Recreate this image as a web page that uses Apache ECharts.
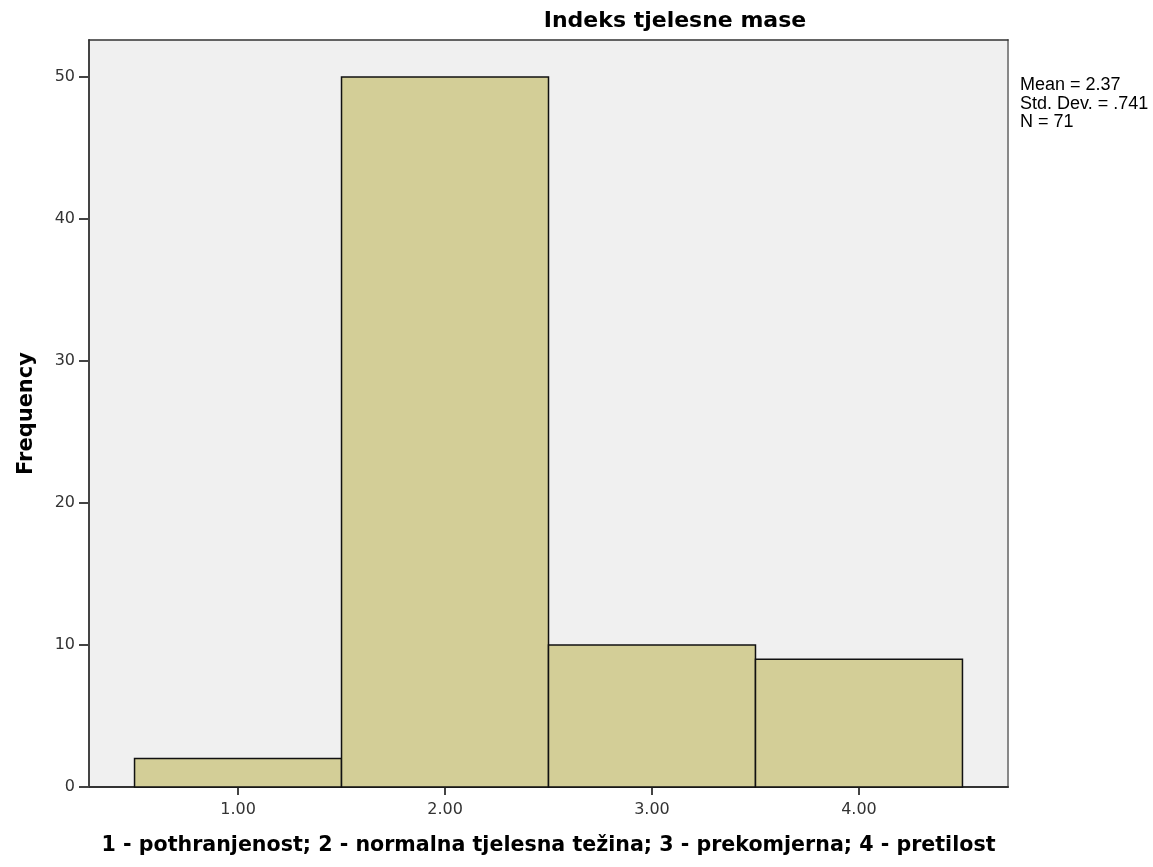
<!DOCTYPE html>
<html>
<head>
<meta charset="utf-8">
<script src="https://cdn.jsdelivr.net/npm/echarts@6/dist/echarts.min.js"></script>
<style>
	html, body { margin: 0; padding: 0; background: #fff; }
	#chart { width: 1153px; height: 867px; }
</style>
</head>
<body>
<div id="chart"></div>
<script>
// histogram bins (BMI category) and their counts
var binStarts = [0.5, 1.5, 2.5, 3.5];
var binEnds = [1.5, 2.5, 3.5, 4.5];
var frequencies = [2, 50, 10, 9];
var xTicks = [1, 2, 3, 4];
var statLines = ['Mean = 2.37', 'Std. Dev. = .741', 'N = 71'];

var barData = [];
for (var i in frequencies) {
	barData.push([binStarts[i], binEnds[i], frequencies[i]]);
}

var chart = echarts.init(document.getElementById('chart'));

var option = {
	animation: false,
	title: {
		text: 'Indeks tjelesne mase',
		left: 670,
		top: 5,
		textAlign: 'center',
		textStyle: {
			fontFamily: 'DejaVu Sans',
			fontWeight: 'bold',
			fontSize: 22,
			color: '#000'
		}
	},
	grid: {
		left: 89,
		right: 145,
		top: 40,
		bottom: 80,
		show: true,
		backgroundColor: '#F0F0F0',
		borderWidth: 0
	},
	xAxis: [ {
		type: 'value',
		min: 0.28,
		max: 4.72,
		splitLine: { show: false },
		axisLine: { show: true, onZero: false, lineStyle: { color: '#333', width: 2 } },
		axisTick: { show: true, customValues: xTicks, length: 8, lineStyle: { color: '#444', width: 2 } },
		axisLabel: {
			customValues: xTicks,
			margin: 15,
			fontFamily: 'DejaVu Sans',
			fontSize: 16,
			color: '#333',
			formatter: function (v) { return v.toFixed(2); }
		},
		name: '1 - pothranjenost; 2 - normalna tjelesna težina; 3 - prekomjerna; 4 - pretilost',
		nameLocation: 'middle',
		nameGap: 48,
		nameTextStyle: {
			fontFamily: 'DejaVu Sans',
			fontWeight: 'bold',
			fontSize: 20.6,
			color: '#000'
		}
	}, {
		type: 'value',
		position: 'top',
		min: 0.28,
		max: 4.72,
		splitLine: { show: false },
		axisLine: { show: true, onZero: false, lineStyle: { color: '#333', width: 1.5 } },
		axisTick: { show: false },
		axisLabel: { show: false }
	} ],
	yAxis: [ {
		type: 'value',
		min: 0,
		max: 52.6,
		interval: 10,
		splitLine: { show: false },
		axisLine: { show: true, onZero: false, lineStyle: { color: '#444', width: 2 } },
		axisTick: { show: true, length: 10, lineStyle: { color: '#444', width: 2 } },
		axisLabel: {
			margin: 14,
			fontFamily: 'DejaVu Sans',
			fontSize: 16,
			color: '#333',
			showMaxLabel: false
		},
		name: 'Frequency',
		nameLocation: 'middle',
		nameGap: 52,
		nameTextStyle: {
			fontFamily: 'DejaVu Sans',
			fontWeight: 'bold',
			fontSize: 21,
			color: '#000'
		}
	}, {
		type: 'value',
		position: 'right',
		min: 0,
		max: 52.6,
		splitLine: { show: false },
		axisLine: { show: true, onZero: false, lineStyle: { color: '#888', width: 2 } },
		axisTick: { show: false },
		axisLabel: { show: false }
	} ],
	series: [ {
		type: 'custom',
		data: barData,
		renderItem: function (params, api) {
			var p0 = api.coord([api.value(0), api.value(2)]);
			var p1 = api.coord([api.value(1), 0]);
			return {
				type: 'rect',
				shape: { x: p0[0], y: p0[1], width: p1[0] - p0[0], height: p1[1] - p0[1] },
				style: { fill: '#D3CE97', stroke: '#111', lineWidth: 1.5 }
			};
		},
		encode: { x: [0, 1], y: 2 }
	} ],
	graphic: [ {
		type: 'text',
		left: 1020,
		top: 76,
		style: {
			text: statLines.join('\n'),
			font: '18px "Liberation Sans"',
			lineHeight: 18.5,
			fill: '#000'
		}
	} ]
};

chart.setOption(option);
</script>
</body>
</html>
